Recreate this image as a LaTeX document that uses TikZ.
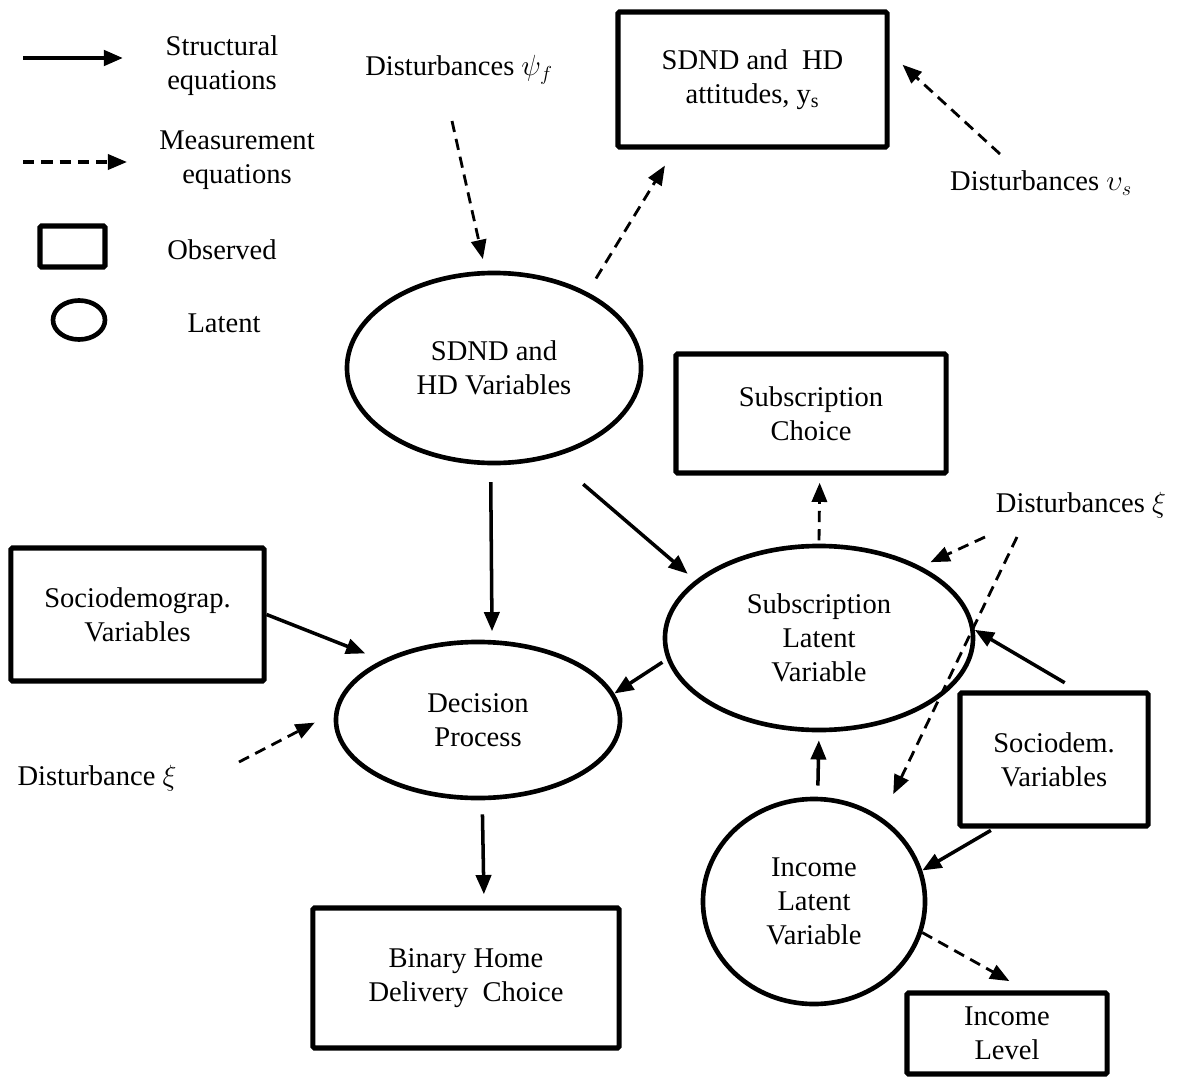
\documentclass[tikz,border=0pt]{standalone}
\usepackage{amsmath,amssymb}
\usepackage{fontspec}
\setmainfont{Liberation Serif}
\usepackage{tikz}
\usetikzlibrary{arrows.meta,shapes.geometric,positioning,calc}

\begin{document}
\begin{tikzpicture}[x=0.025cm,y=-0.025cm,
		every node/.style={font=\fontsize{20.3}{24.2}\selectfont, align=center},
		obs/.style={draw, line width=3.6pt, inner sep=0pt, rounded corners=1pt},
		lat/.style={draw, ellipse, line width=3.3pt, inner sep=0pt},
		struct/.style={line width=2.5pt, -{Triangle[length=0.48cm,width=0.38cm]}},
		meas/.style={line width=2pt, dash pattern=on 8pt off 5pt, -{Triangle[length=0.48cm,width=0.38cm]}}]
		\useasboundingbox (0,0) rectangle (1184,1077);

		% legend
		\coordinate (s0) at (23,58);
		\coordinate (s1) at (123,58);
		\draw[struct, line width=3pt] (s0) -- (s1);
		\node (lstruct) at (222,66) {Structural\\equations};
		\coordinate (m0) at (23,162);
		\coordinate (m1) at (127,162);
		\draw[meas, line width=2.4pt] (m0) -- (m1);
		\node (lmeas) at (237,160) {Measurement\\equations};
		\node[obs, minimum width=1.625cm, minimum height=1.025cm] (lobs0) at (72.5,246.5) {};
		\node (lobs) at (222,250) {Observed};
		\node[lat, minimum width=1.3cm, minimum height=0.975cm] (llat0) at (79,320) {};
		\node (llat) at (224,323) {Latent};

		% observed variables
		\node[obs, minimum width=6.725cm, minimum height=3.375cm] (attit) at (752.5,79.5) {SDND and \ HD\\attitudes, y\textsubscript{s}};
		\node[obs, minimum width=6.75cm, minimum height=2.975cm] (subch) at (811,413.5) {Subscription\\Choice};
		\node[obs, minimum width=6.325cm, minimum height=3.325cm] (sociol) at (137.5,614.5) {Sociodemograp.\\Variables};
		\node[obs, minimum width=7.65cm, minimum height=3.5cm] (binary) at (466,978) {Binary Home\\Delivery \ Choice};
		\node[obs, minimum width=4.7cm, minimum height=3.325cm] (sociod) at (1054,759.5) {Sociodem.\\Variables};
		\node[obs, minimum width=5cm, minimum height=2.025cm] (inclev) at (1007,1033.5) {Income\\Level};

		% latent variables
		\node[lat, minimum width=7.35cm, minimum height=4.75cm] (sdnd) at (494,368) {SDND and\\HD Variables};
		\node[lat, minimum width=7.7cm, minimum height=4.6cm] (sublat) at (819,638) {Subscription\\Latent\\Variable};
		\node[lat, minimum width=7.1cm, minimum height=3.9cm] (decis) at (478,720) {Decision\\Process};
		\node[lat, minimum width=5.55cm, minimum height=5.125cm] (incom) at (814,901.5) {Income\\Latent\\Variable};

		% disturbances
		\node (dpsi) at (459,70) {Disturbances $\psi_f$};
		\node (dups) at (1041,183) {Disturbances $\upsilon_s$};
		\node (dxi) at (1081,505) {Disturbances $\xi$};
		\node (dxi2) at (97,778) {Disturbance $\xi$};
		\coordinate (psi0) at (452,121);
		\coordinate (ups0) at (1000,154);
		\coordinate (xi0) at (985,537);
		\coordinate (xi1) at (1017,537);
		\coordinate (xi2) at (239,762);

		% connectors
		\draw[meas, shorten >=0.3cm] (psi0) -- (sdnd.95);
		\draw[meas, shorten <=0.4cm, shorten >=0.47cm] (sdnd.39.5) -- (attit.222);
		\draw[meas, shorten >=0.44cm] (ups0) -- (attit.11.4);
		\draw[struct, shorten <=0.42cm, shorten >=0.22cm] (sdnd.268.5) -- (decis.80.4);
		\draw[struct, shorten <=1.02cm, shorten >=0.25cm] (sdnd.303.1) -- (sublat.155.1);
		\draw[struct, shorten >=0.45cm] (sociol.east) -- (decis.148.35);
		\draw[meas, shorten >=0.55cm] (xi2) -- (decis.177.3);
		\draw[struct, shorten <=0.35cm, shorten >=0.28cm] (decis.273.7) -- (binary.76.3);
		\draw[struct, shorten <=0.13cm] (sublat.188.6) -- (decis.11.8);
		\draw[meas, shorten <=0.08cm, shorten >=0.18cm] (sublat.north) -- (subch.278.6);
		\draw[meas, shorten >=0.26cm] (xi0) -- (sublat.35.7);
		\draw[meas, shorten >=0.65cm] (xi1) -- (incom.51.7);
		\draw[struct, shorten <=0.38cm] (sociod.71.7) -- (sublat.3);
		\draw[struct, shorten <=0.09cm] (sociod.229.4) -- (incom.16.7);
		\draw[struct, shorten <=0.28cm, shorten >=0.2cm] (incom.88) -- (sublat.south);
		\draw[meas, shorten >=0.48cm] (incom.344.6) -- (inclev.66.5);
	\end{tikzpicture}
\end{document}
